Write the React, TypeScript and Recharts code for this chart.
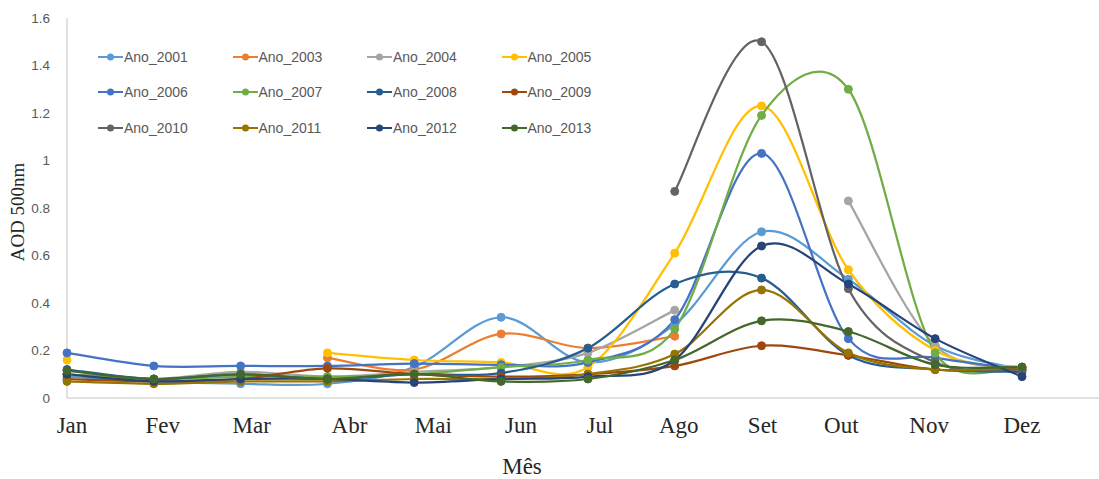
import React from "react";
import { LineChart, Line, XAxis, YAxis } from "recharts";

const months = ["Jan", "Fev", "Mar", "Abr", "Mai", "Jun", "Jul", "Ago", "Set", "Out", "Nov", "Dez"];
const yTicks = [0, 0.2, 0.4, 0.6, 0.8, 1, 1.2, 1.4, 1.6];

const ano2001 = [0.09, 0.07, 0.06, 0.06, 0.13, 0.34, 0.15, 0.31, 0.70, 0.50, 0.22, 0.12];
const ano2003 = [null, null, null, 0.17, 0.12, 0.27, 0.21, 0.26, null, null, null, null];
const ano2004 = [0.10, 0.08, 0.11, 0.09, 0.11, 0.13, 0.19, 0.37, null, 0.83, 0.22, 0.13];
const ano2005 = [0.16, null, null, 0.19, 0.16, 0.15, 0.13, 0.61, 1.23, 0.54, 0.20, 0.12];
const ano2006 = [0.19, 0.135, 0.135, 0.135, 0.145, 0.14, 0.15, 0.33, 1.03, 0.25, 0.17, 0.12];
const ano2007 = [0.10, 0.08, 0.09, 0.09, 0.10, 0.13, 0.16, 0.29, 1.19, 1.30, 0.19, 0.13];
const ano2008 = [0.12, 0.08, 0.10, 0.08, 0.10, 0.105, 0.21, 0.48, 0.505, 0.18, 0.12, 0.11];
const ano2009 = [0.08, 0.07, 0.08, 0.125, 0.10, 0.09, 0.10, 0.135, 0.22, 0.18, 0.12, 0.12];
const ano2010 = [null, null, null, null, null, null, null, 0.87, 1.50, 0.46, 0.15, 0.12];
const ano2011 = [0.07, 0.06, 0.07, 0.07, 0.08, 0.08, 0.10, 0.185, 0.455, 0.19, 0.12, 0.13];
const ano2012 = [0.10, 0.07, 0.08, 0.08, 0.065, 0.08, 0.09, 0.16, 0.64, 0.48, 0.25, 0.09];
const ano2013 = [0.115, 0.08, 0.10, 0.08, 0.10, 0.07, 0.08, 0.16, 0.325, 0.28, 0.14, 0.13];

const series = [
  { key: "Ano_2001", values: ano2001, color: "#5B9BD5" },
  { key: "Ano_2003", values: ano2003, color: "#ED7D31" },
  { key: "Ano_2004", values: ano2004, color: "#A5A5A5" },
  { key: "Ano_2005", values: ano2005, color: "#FFC000" },
  { key: "Ano_2006", values: ano2006, color: "#4472C4" },
  { key: "Ano_2007", values: ano2007, color: "#70AD47" },
  { key: "Ano_2008", values: ano2008, color: "#255E91" },
  { key: "Ano_2009", values: ano2009, color: "#9E480E" },
  { key: "Ano_2010", values: ano2010, color: "#636363" },
  { key: "Ano_2011", values: ano2011, color: "#997300" },
  { key: "Ano_2012", values: ano2012, color: "#264478" },
  { key: "Ano_2013", values: ano2013, color: "#43682B" },
];

const data = months.map((m, i) => {
  const row: any = { month: m };
  series.forEach(s => { row[s.key] = s.values[i]; });
  return row;
});

// Excel-like smoothed line: Catmull-Rom arms, each clamped to half of its segment
function excelSmooth(context: any) {
  let pts: number[][] = [];
  const arm = (a: number[], b: number[], seg: number) => {
    let dx = (b[0] - a[0]) / 6, dy = (b[1] - a[1]) / 6;
    const len = Math.hypot(dx, dy);
    if (len > seg / 2 && len > 0) { dx *= seg / 2 / len; dy *= seg / 2 / len; }
    return [dx, dy];
  };
  return {
    areaStart() {},
    areaEnd() {},
    lineStart() { pts = []; },
    point(x: number, y: number) { pts.push([+x, +y]); },
    lineEnd() {
      const n = pts.length;
      if (!n) return;
      context.moveTo(pts[0][0], pts[0][1]);
      for (let i = 0; i < n - 1; i++) {
        const p0 = pts[Math.max(i - 1, 0)], p1 = pts[i], p2 = pts[i + 1], p3 = pts[Math.min(i + 2, n - 1)];
        const seg = Math.hypot(p2[0] - p1[0], p2[1] - p1[1]);
        const a1 = arm(p0, p2, seg), a2 = arm(p1, p3, seg);
        context.bezierCurveTo(p1[0] + a1[0], p1[1] + a1[1], p2[0] - a2[0], p2[1] - a2[1], p2[0], p2[1]);
      }
    },
  };
}

// small horizontal nudges of the month labels, as in the original figure
const labelNudge = [5, 9, 11, 22, 19, 20, 12, 4, 1, -7, -6, 0];

function MonthTick({ x, y, payload, index }: any) {
  return (
    <text x={x + (labelNudge[index] || 0)} y={y} dy={27} textAnchor="middle"
      fontFamily="'Liberation Serif', 'DejaVu Serif', serif" fontSize={23} fill="#262626">
      {payload.value}
    </text>
  );
}

function LegendGrid() {
  return (
    <div style={{
      position: "absolute", left: 98, top: 48, display: "grid",
      gridTemplateColumns: "repeat(4, 134.5px)", rowGap: "18px",
    }}>
      {series.map(s => (
        <div key={s.key} style={{ display: "flex", alignItems: "center", height: "17.5px" }}>
          <svg width={25} height={10} style={{ marginRight: 1 }}>
            <line x1={0} y1={5} x2={25} y2={5} stroke={s.color} strokeWidth={2} />
            <circle cx={12.5} cy={5} r={3.5} fill={s.color} />
          </svg>
          <span style={{ fontFamily: "'Liberation Sans', Arial, sans-serif", fontSize: "14px", color: "#595959" }}>{s.key}</span>
        </div>
      ))}
    </div>
  );
}

export default function App() {
  return (
    <div style={{ position: "absolute", left: 0, top: 0, width: 1099, height: 479, background: "#fff" }}>
      <LineChart width={1099} height={479} data={data} margin={{ top: 18, right: 0, bottom: 0, left: 0 }}>
        <XAxis dataKey="month" interval={0} height={81} padding={{ left: 0, right: 77 }}
          axisLine={{ stroke: "#D9D9D9", strokeWidth: 1.5 }} tickLine={false} tick={<MonthTick />}
          label={{
            content: () => (
              <text x={522} y={474} textAnchor="middle" fontFamily="'Liberation Serif', 'DejaVu Serif', serif"
                fontSize={23} fill="#262626">Mês</text>
            ),
          }} />
        <YAxis domain={[0, 1.6]} ticks={yTicks} width={67} interval={0}
          axisLine={{ stroke: "#D9D9D9", strokeWidth: 1.5 }} tickLine={false} tickMargin={11}
          tick={{ fontSize: 13.5, fill: "#595959", fontFamily: "'Liberation Sans', Arial, sans-serif" }}
          tickFormatter={(v: number) => String(Number(v.toFixed(1)))}
          label={{
            content: () => (
              <text x={24} y={212} textAnchor="middle" transform="rotate(-90 24 212)"
                fontFamily="'Liberation Serif', 'DejaVu Serif', serif" fontSize={19} fill="#262626">AOD 500nm</text>
            ),
          }} />
        {series.map(s => (
          <Line key={s.key} dataKey={s.key} type={excelSmooth as any} stroke={s.color} strokeWidth={2.25}
            dot={{ r: 4, fill: s.color, stroke: s.color, strokeWidth: 1 }} activeDot={false}
            isAnimationActive={false} />
        ))}
      </LineChart>
      <LegendGrid />
    </div>
  );
}
